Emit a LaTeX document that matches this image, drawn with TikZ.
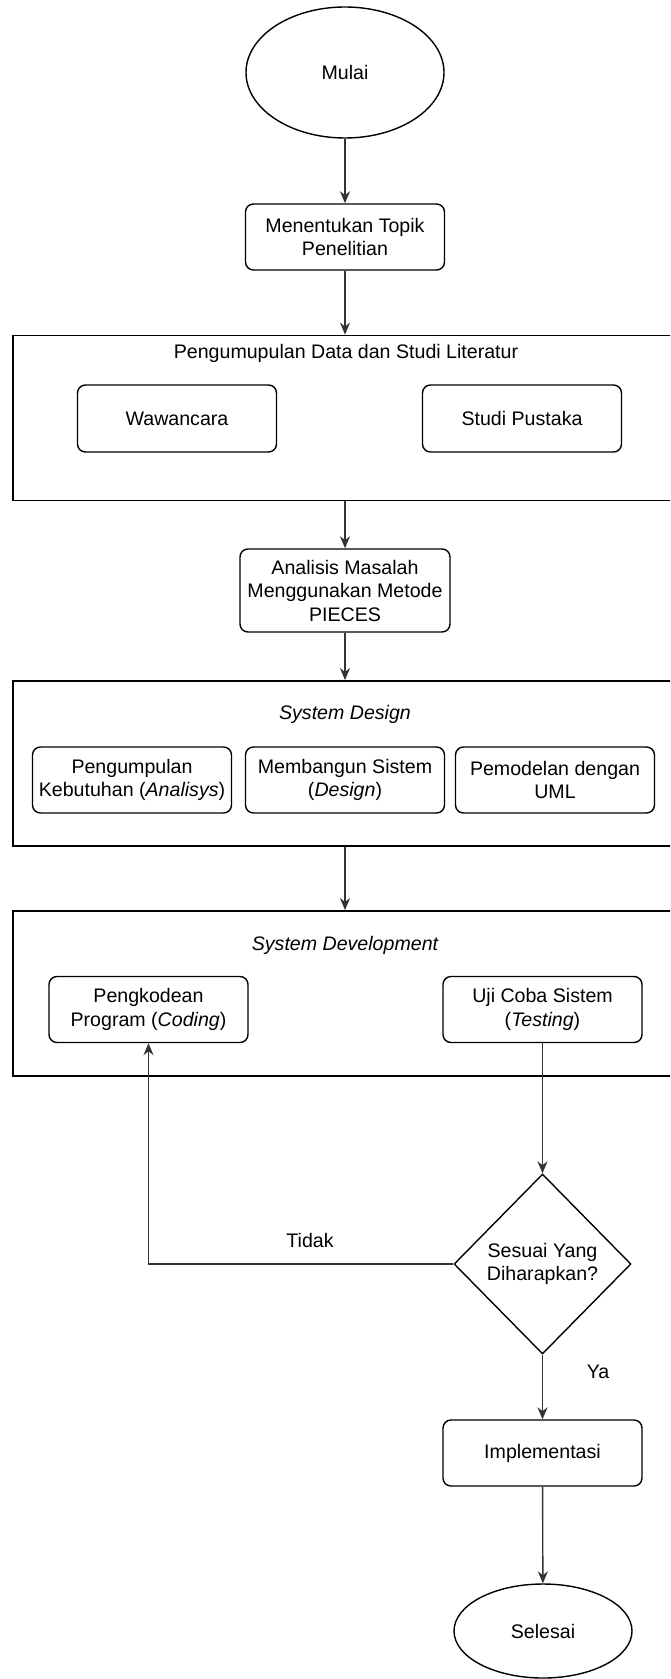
\documentclass[tikz,border=0pt]{standalone}
\usepackage{fontspec}
\setmainfont{Liberation Sans}
\usetikzlibrary{arrows.meta,shapes.geometric}

\tikzset{
  proses/.style={draw, rounded corners=4pt, align=center, inner sep=0pt,
    minimum width=99.5pt, minimum height=33pt},
  wadah/.style={draw, line width=0.9pt, inner sep=0pt, minimum width=332pt, minimum height=82.5pt},
  terminal/.style={draw, ellipse, inner sep=0pt},
  keputusan/.style={draw, diamond, align=center, inner sep=0pt},
  panah/.style={draw=black!80, -{Stealth[length=6pt,width=5pt]}}
}

\begin{document}
\begin{tikzpicture}[x=0.5pt,y=-0.5pt,line width=0.7pt,font=\fontsize{9.8}{11.75}\selectfont]
  \useasboundingbox (0,0) rectangle (670,1679);
  \clip (0,0) rectangle (670,1679);
  \node[terminal, minimum width=99pt, minimum height=65.5pt] (mulai) at (345,72.5) {Mulai};
  \node[proses] (topik) at (345,237) {Menentukan Topik\\Penelitian};
  % pengumpulan data
  \node[wadah] (data) at (345,418) {};
  \node (judulData) at (346,353) {Pengumupulan Data dan Studi Literatur};
  \node[proses, minimum height=33.5pt] (wawancara) at (177,418.5) {Wawancara};
  \node[proses, minimum height=33.5pt] (pustaka) at (522,418.5) {Studi Pustaka};
  \node[proses, minimum width=105pt, minimum height=41.5pt] (analisis) at (345,590.5)
    {Analisis Masalah\\Menggunakan Metode\\PIECES};
  % system design
  \node[wadah] (desain) at (345,763.5) {};
  \node (judulDesain) at (345,714) {\itshape System Design};
  \node[proses] (kebutuhan) at (132,780) {Pengumpulan\\Kebutuhan (\textit{Analisys})};
  \node[proses] (bangun) at (345,780) {Membangun Sistem\\(\textit{Design})};
  \node[proses] (uml) at (555,780) {Pemodelan dengan\\UML};
  % system development
  \node[wadah] (develop) at (345,993.5) {};
  \node (judulDevelop) at (345,945) {\itshape System Development};
  \node[proses] (kode) at (148.5,1009.5) {Pengkodean\\Program (\textit{Coding})};
  \node[proses] (uji) at (542.5,1009.5) {Uji Coba Sistem\\(\textit{Testing})};
  \node[keputusan, minimum width=88.5pt, minimum height=90pt] (cek) at (542.5,1264)
    {Sesuai Yang\\Diharapkan?};
  \node[proses] (implementasi) at (542.5,1453) {Implementasi};
  \node[terminal, minimum width=89pt, minimum height=47pt] (selesai) at (543,1631) {Selesai};
  \node (tidak) at (310,1240) {Tidak};
  \node (ya) at (598,1372) {Ya};

  \draw[panah] (mulai) -- (topik);
  \draw[panah] (topik) -- (data);
  \draw[panah] (data) -- (analisis);
  \draw[panah] (analisis) -- (desain);
  \draw[panah] (desain) -- (develop);
  \draw[panah] (uji) -- (cek);
  \draw[panah] (cek.west) -| (kode.south);
  \draw[panah] (cek) -- (implementasi);
  \draw[panah] (implementasi) -- (selesai);
\end{tikzpicture}
\end{document}
